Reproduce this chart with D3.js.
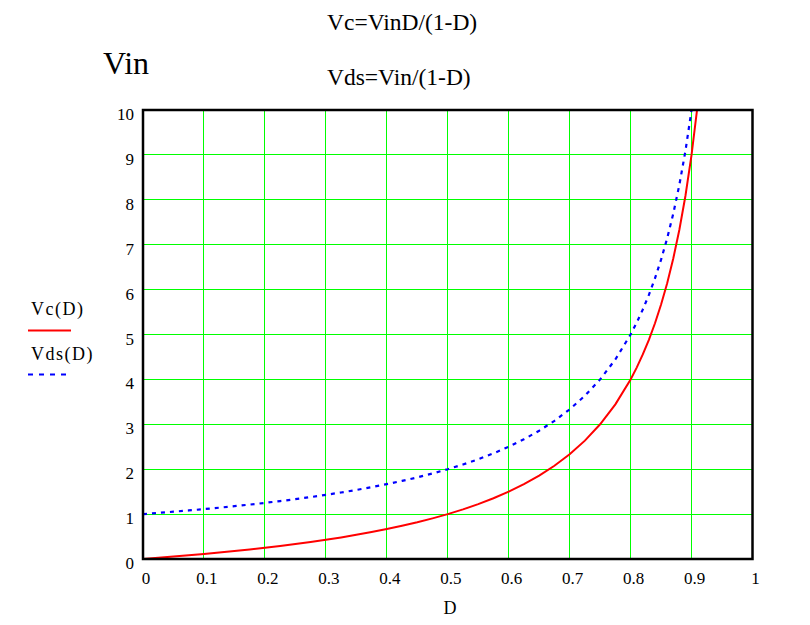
<!DOCTYPE html>
<html><head><meta charset="utf-8">
<script src="https://cdn.jsdelivr.net/npm/d3@7"></script>
<style>
html,body{margin:0;padding:0;background:#fff;}
svg text{font-family:"Liberation Serif","Times New Roman",serif;fill:#000;}
</style></head>
<body>
<svg id="chart" width="810" height="625"></svg>
<script>
// ---- data ----
const dVals = [0,0.025,0.05,0.075,0.1,0.125,0.15,0.175,0.2,0.225,0.25,0.275,0.3,0.325,0.35,0.375,0.4,0.425,0.45,0.475,0.5,0.525,0.55,0.575,0.6,0.625,0.65,0.675,0.7,0.725,0.75,0.775,0.8,0.81,0.82,0.83,0.84,0.85,0.86,0.87,0.88,0.89,0.9,0.909];
const vcVals = [0,0.026,0.053,0.081,0.111,0.143,0.176,0.212,0.25,0.29,0.333,0.379,0.429,0.481,0.538,0.6,0.667,0.739,0.818,0.905,1.0,1.105,1.222,1.353,1.5,1.667,1.857,2.077,2.333,2.636,3.0,3.444,4.0,4.263,4.556,4.882,5.25,5.667,6.143,6.692,7.333,8.091,9.0,10.0];
const vdsVals = [1,1.026,1.053,1.081,1.111,1.143,1.176,1.212,1.25,1.29,1.333,1.379,1.429,1.481,1.538,1.6,1.667,1.739,1.818,1.905,2.0,2.105,2.222,2.353,2.5,2.667,2.857,3.077,3.333,3.636,4.0,4.444,5.0,5.263,5.556,5.882,6.25,6.667,7.143,7.692,8.333,9.091,10.0];
const xTicks = [0,0.1,0.2,0.3,0.4,0.5,0.6,0.7,0.8,0.9,1];
const yTicks = [0,1,2,3,4,5,6,7,8,9,10];
const xTickLabels = ["0","0.1","0.2","0.3","0.4","0.5","0.6","0.7","0.8","0.9","1"];
const yTickLabels = ["0","1","2","3","4","5","6","7","8","9","10"];
const seriesNames = ["Vc(D)","Vds(D)"];
const titles = ["Vc=VinD/(1-D)","Vds=Vin/(1-D)"];
const yTitle = "Vin";
const xTitle = "D";

// ---- layout ----
const L = 143, R = 752.5, T = 110, B = 559;
const svg = d3.select("#chart");
const x = d3.scaleLinear().domain([0,1]).range([L,R]);
const y = d3.scaleLinear().domain([0,10]).range([B,T]);

// grid
const grid = svg.append("g");
grid.selectAll(".gx").data(xTicks.slice(1,-1)).enter().append("line")
  .attr("x1",d=>x(d)).attr("x2",d=>x(d)).attr("y1",T).attr("y2",B)
  .attr("stroke","#00ff00").attr("stroke-width",1).attr("shape-rendering","crispEdges");
grid.selectAll(".gy").data(yTicks.slice(1,-1)).enter().append("line")
  .attr("y1",d=>y(d)).attr("y2",d=>y(d)).attr("x1",L).attr("x2",R)
  .attr("stroke","#00ff00").attr("stroke-width",1).attr("shape-rendering","crispEdges");

// clip
svg.append("clipPath").attr("id","clip").append("rect")
  .attr("x",L).attr("y",T).attr("width",R-L).attr("height",B-T);

const line = d3.line().x(d=>x(d[0])).y(d=>y(d[1]));
const vcData = dVals.map((d,i)=>[d,vcVals[i]]);
const vdsData = vdsVals.map((v,i)=>[dVals[i],v]);

const plot = svg.append("g").attr("clip-path","url(#clip)");
plot.append("path").datum(vdsData).attr("d",line)
  .attr("fill","none").attr("stroke","#0000ff").attr("stroke-width",2.2)
  .attr("stroke-dasharray","4,5");
plot.append("path").datum(vcData).attr("d",line)
  .attr("fill","none").attr("stroke","#ff0000").attr("stroke-width",2);

// frame
svg.append("rect").attr("x",L).attr("y",T).attr("width",R-L).attr("height",B-T)
  .attr("fill","none").attr("stroke","#000").attr("stroke-width",2.5);

// tick labels
svg.append("g").selectAll("text").data(yTicks).enter().append("text")
  .attr("x",L-9).attr("y",d=>y(d)+10).attr("text-anchor","end")
  .attr("font-size",17).text((d,i)=>yTickLabels[i]);
svg.append("g").selectAll("text").data(xTicks).enter().append("text")
  .attr("x",d=>x(d)+3).attr("y",B+25).attr("text-anchor","middle")
  .attr("font-size",17).text((d,i)=>xTickLabels[i]);

// titles
svg.append("text").attr("x",327).attr("y",30).attr("font-size",23.5).text(titles[0]);
svg.append("text").attr("x",327).attr("y",85).attr("font-size",23.5).text(titles[1]);
svg.append("text").attr("x",103).attr("y",74).attr("font-size",32).text(yTitle);
svg.append("text").attr("x",450).attr("y",614).attr("text-anchor","middle").attr("font-size",18).text(xTitle);

// legend
svg.append("text").attr("x",31).attr("y",315).attr("font-size",18).attr("letter-spacing",1.5).text(seriesNames[0]);
svg.append("line").attr("x1",28).attr("x2",71).attr("y1",330.5).attr("y2",330.5)
  .attr("stroke","#ff0000").attr("stroke-width",2);
svg.append("text").attr("x",31).attr("y",360).attr("font-size",18).attr("letter-spacing",1.5).text(seriesNames[1]);
svg.append("line").attr("x1",28).attr("x2",71).attr("y1",374.5).attr("y2",374.5)
  .attr("stroke","#0000ff").attr("stroke-width",2).attr("stroke-dasharray","5,6");
</script>
</body></html>
